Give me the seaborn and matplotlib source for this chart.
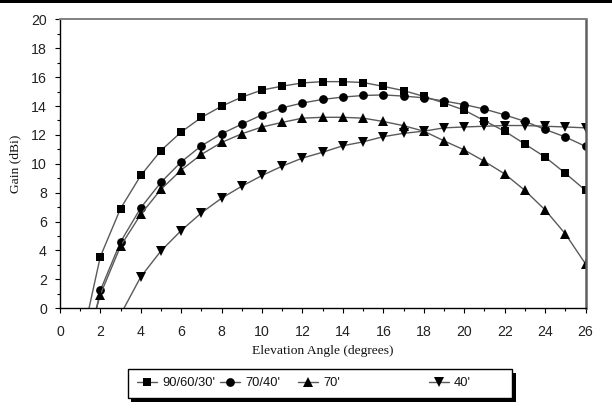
import numpy as np
import pandas as pd
import seaborn as sns
import matplotlib
matplotlib.use("Agg")
import matplotlib.pyplot as plt
from matplotlib.lines import Line2D
from matplotlib.patches import Rectangle
from matplotlib.ticker import MultipleLocator

# ---------------- data ----------------
angles_a = list(range(1, 27))
gain_906030 = [-2.8, 3.57, 6.9, 9.19, 10.92, 12.20, 13.21, 13.99, 14.62, 15.11,
               15.38, 15.60, 15.69, 15.69, 15.63, 15.36, 15.07, 14.67, 14.21, 13.72,
               12.98, 12.26, 11.37, 10.47, 9.35, 8.16]
gain_7040 = [-5.3, 1.23, 4.59, 6.95, 8.72, 10.13, 11.25, 12.08, 12.75, 13.39,
             13.88, 14.21, 14.46, 14.62, 14.73, 14.77, 14.69, 14.57, 14.35, 14.10,
             13.79, 13.39, 12.94, 12.38, 11.86, 11.21]
gain_70 = [-4.0, 0.94, 4.30, 6.50, 8.23, 9.57, 10.65, 11.48, 12.08, 12.55,
           12.87, 13.16, 13.22, 13.22, 13.16, 12.93, 12.64, 12.26, 11.59, 10.96,
           10.17, 9.30, 8.16, 6.81, 5.15, 3.07]
angles_b = list(range(3, 27))
gain_40 = [-0.44, 2.17, 3.97, 5.38, 6.60, 7.62, 8.45, 9.19, 9.84, 10.40,
           10.80, 11.25, 11.52, 11.88, 12.11, 12.26, 12.49, 12.55, 12.60, 12.65,
           12.65, 12.60, 12.55, 12.49]

series_labels = ["90/60/30'", "70/40'", "70'", "40'"]
x_ticks = list(range(0, 27, 2))
y_ticks = list(range(0, 21, 2))

df = pd.concat([
    pd.DataFrame({"angle": angles_a, "gain": gain_906030, "series": series_labels[0]}),
    pd.DataFrame({"angle": angles_a, "gain": gain_7040, "series": series_labels[1]}),
    pd.DataFrame({"angle": angles_a, "gain": gain_70, "series": series_labels[2]}),
    pd.DataFrame({"angle": angles_b, "gain": gain_40, "series": series_labels[3]}),
], ignore_index=True)

# ---------------- style ----------------
sns.set_theme(style="white")
plt.rcParams["font.family"] = ["Liberation Sans", "DejaVu Sans"]

W, H = 612, 411
fig = plt.figure(figsize=(W / 100, H / 100), dpi=100)
fig.patch.set_facecolor("white")

L, R, T, B = 59.9, 585.5, 19.4, 308.2
ax = fig.add_axes([L / W, 1 - B / H, (R - L) / W, (B - T) / H])
ax.set_facecolor("white")

styles = {
    "90/60/30'": dict(marker="s", markersize=5.6),
    "70/40'": dict(marker="o", markersize=6.3),
    "70'": dict(marker="^", markersize=7.0),
    "40'": dict(marker="v", markersize=7.0),
}
line_col = "#5a5a5a"
for lab in series_labels:
    sub = df[df["series"] == lab]
    sns.lineplot(data=sub, x="angle", y="gain", ax=ax, color=line_col, lw=1.0,
                 markerfacecolor="black", markeredgecolor="black",
                 markeredgewidth=0, estimator=None, sort=False, legend=False,
                 **styles[lab])

ax.set_xlim(0, 26)
ax.set_ylim(0, 20)
ax.set_xticks(x_ticks)
ax.set_yticks(y_ticks)
ax.xaxis.set_minor_locator(MultipleLocator(1))
ax.yaxis.set_minor_locator(MultipleLocator(1))
ax.grid(False)

for s in ["left", "bottom"]:
    ax.spines[s].set_color("black")
    ax.spines[s].set_linewidth(1.0)
ax.spines["top"].set_color("#808080")
ax.spines["top"].set_linewidth(1.4)
ax.spines["right"].set_color("#606060")
ax.spines["right"].set_linewidth(1.8)

ax.tick_params(axis="both", which="both", direction="out", colors="black",
               bottom=True, left=True, top=False, right=False, width=0.8)
ax.tick_params(axis="both", which="major", length=3.5)
ax.tick_params(axis="both", which="minor", length=2.1)
ax.tick_params(axis="y", which="major", pad=5.8, labelsize=10.2, labelcolor="#222222")
ax.tick_params(axis="x", which="major", pad=8.5, labelsize=10.2, labelcolor="#222222")

ax.set_xlabel("Elevation Angle (degrees)", family=["Liberation Serif", "DejaVu Serif"],
              fontsize=9.7, color="#111111")
ax.set_ylabel("Gain (dBi)", family=["Liberation Serif", "DejaVu Serif"],
              fontsize=9.7, color="#111111")
ax.xaxis.set_label_coords(0.5, (B - 345.0) / (B - T))
ax.yaxis.set_label_coords((21.4 - L) / (R - L), 0.5)

# top black band
fig.add_artist(Rectangle((0, 1 - 3.2 / H), 1, 3.2 / H, transform=fig.transFigure,
                         facecolor="black", edgecolor="none", zorder=10))

# legend box with shadow
lx0, lx1, ly0, ly1 = 127.9, 512.2, 369.1, 398.3
sh = 3.4
fig.add_artist(Rectangle(((lx0 + sh) / W, 1 - (ly1 + sh) / H), (lx1 - lx0) / W,
                         (ly1 - ly0) / H, transform=fig.transFigure,
                         facecolor="black", edgecolor="none", zorder=5))
fig.add_artist(Rectangle((lx0 / W, 1 - ly1 / H), (lx1 - lx0) / W, (ly1 - ly0) / H,
                         transform=fig.transFigure, facecolor="white",
                         edgecolor="black", lw=1.0, zorder=6))

leg_fs = 9.3
fs_px = leg_fs * 100 / 72
leg_y = 1 - 383.0 / H
leg_starts = [137.0, 220.0, 298.0, 429.0]
for lab, x0 in zip(series_labels, leg_starts):
    h = Line2D([], [], color=line_col, lw=1.0, markerfacecolor="black",
               markeredgecolor="black", markeredgewidth=0, **styles[lab])
    lg = fig.legend(handles=[h], labels=[lab], loc="center left",
                    bbox_to_anchor=(x0 / W, leg_y), frameon=False, fontsize=leg_fs,
                    handlelength=20 / fs_px, handletextpad=5 / fs_px,
                    borderpad=0, borderaxespad=0, numpoints=1)
    lg.set_zorder(7)
    for t in lg.get_texts():
        t.set_color("#111111")

fig.savefig("out.png", dpi=100, facecolor="white")
